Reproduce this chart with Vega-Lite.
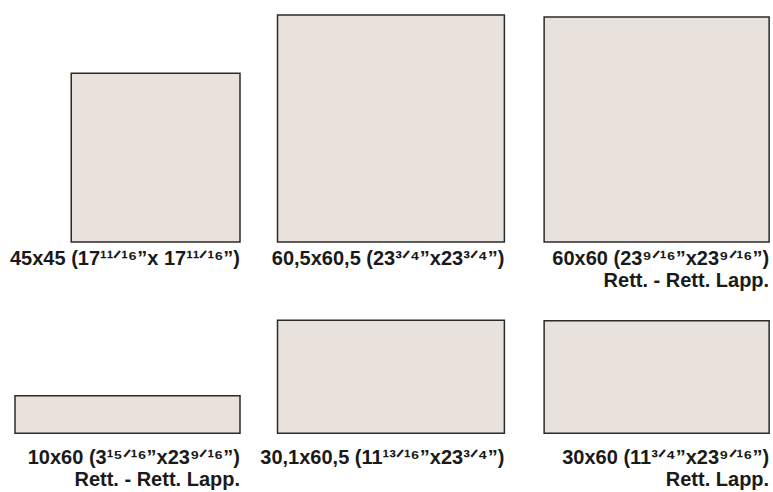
{
  "$schema": "https://vega.github.io/schema/vega-lite/v6.json",
  "width": 773,
  "height": 492,
  "autosize": {"type": "fit", "contains": "padding"},
  "padding": 0,
  "background": "white",
  "config": {"view": {"stroke": null}},
  "data": {
    "values": [
      {"tile": "45x45", "w": 45, "h": 45, "col": 0, "row": 0, "label": "45x45 (17¹¹ᐟ¹⁶”x 17¹¹ᐟ¹⁶”)"},
      {"tile": "60,5x60,5", "w": 60.5, "h": 60.5, "col": 1, "row": 0, "label": "60,5x60,5 (23³ᐟ⁴”x23³ᐟ⁴”)"},
      {"tile": "60x60", "w": 60, "h": 60, "col": 2, "row": 0, "label": "60x60 (23⁹ᐟ¹⁶”x23⁹ᐟ¹⁶”)\nRett. - Rett. Lapp."},
      {"tile": "10x60", "w": 60, "h": 10, "col": 0, "row": 1, "label": "10x60 (3¹⁵ᐟ¹⁶”x23⁹ᐟ¹⁶”)\nRett. - Rett. Lapp."},
      {"tile": "30,1x60,5", "w": 60.5, "h": 30.1, "col": 1, "row": 1, "label": "30,1x60,5 (11¹³ᐟ¹⁶”x23³ᐟ⁴”)"},
      {"tile": "30x60", "w": 60, "h": 30, "col": 2, "row": 1, "label": "30x60 (11³ᐟ⁴”x23⁹ᐟ¹⁶”)\nRett. Lapp."}
    ]
  },
  "transform": [
    {"calculate": "[64, 134.5, 205.1][datum.col]", "as": "right"},
    {"calculate": "datum.right - datum.w", "as": "left"},
    {"calculate": "[64.5, 115.5][datum.row]", "as": "bottom"},
    {"calculate": "datum.bottom - datum.h", "as": "top"},
    {"calculate": "datum.bottom + [2.0, 3.9][datum.row]", "as": "textY"}
  ],
  "layer": [
    {
      "mark": {"type": "rect", "fill": "#e8e1dc", "stroke": "#2b2b2b", "strokeWidth": 1.5},
      "encoding": {
        "x": {"field": "left", "type": "quantitative", "scale": {"domain": [0, 206.13], "nice": false, "zero": false}, "axis": null},
        "x2": {"field": "right"},
        "y": {"field": "top", "type": "quantitative", "scale": {"domain": [0, 131.2], "nice": false, "zero": false, "reverse": true}, "axis": null},
        "y2": {"field": "bottom"}
      }
    },
    {
      "mark": {"type": "text", "align": "right", "baseline": "top", "font": "Liberation Sans", "fontWeight": "bold", "fontSize": 20, "lineBreak": "\n", "lineHeight": 22, "fill": "#1a1a1a"},
      "encoding": {
        "x": {"field": "right", "type": "quantitative"},
        "y": {"field": "textY", "type": "quantitative"},
        "text": {"field": "label"}
      }
    }
  ]
}
